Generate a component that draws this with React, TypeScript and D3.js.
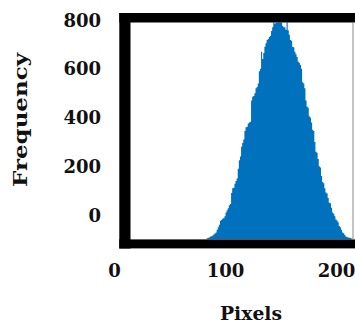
import React from "react";
import * as d3 from "d3";

// histogram counts, one per pixel value starting at binStart
const binStart = 83;
const counts = [
  -95, -93, -92, -88, -87, -84, -80, -76, -72, -60,
  -50, -40, -24, -20, -14, -13, -5, 10, 20, 28,
  40, 45, 90, 110, 112, 128, 140, 150, 190, 225,
  240, 280, 295, 310, 345, 360, 362, 375, 380, 383,
  470, 485, 488, 500, 520, 525, 540, 590, 600, 670,
  640, 665, 690, 705, 718, 722, 730, 735, 755, 770,
  800, 785, 810, 790, 800, 795, 805, 790, 775, 770,
  770, 760, 800, 758, 740, 718, 715, 690, 688, 670,
  660, 648, 630, 625, 615, 600, 545, 540, 520, 470,
  445, 440, 405, 400, 380, 350, 345, 300, 260, 255,
  230, 200, 195, 160, 135, 130, 110, 92, 88, 70,
  50, 48, 30, 10, 5, -5, -18, -22, -30, -45,
  -50, -60, -72, -75, -82, -88, -90, -92, -93, -94,
  -96, -97,
];
const yTicks = [0, 200, 400, 600, 800];
const xTicks = [0, 100, 200];

const W = 355;
const H = 322;
const font = "'DejaVu Serif', serif";

export default function App() {
  const x = d3.scaleLinear().domain([0, 216]).range([114.5, 354.3]);
  const y = d3.scaleLinear().domain([-100, 800]).range([239.4, 20]);
  const base = y(-100);

  // plot box
  const left = 130.5, top = 22.5, right = 353, bottom = 239.4;

  // step outline of the bins, last one closed at its right edge
  const pts = counts.map((c, i) => [binStart + i, c] as [number, number]);
  pts.push([binStart + counts.length, counts[counts.length - 1]]);
  const area = d3
    .area<[number, number]>()
    .x((d) => x(d[0]))
    .y0(base)
    .y1((d) => y(d[1]))
    .curve(d3.curveStepAfter);

  return (
    <svg width={W} height={H} style={{ position: "absolute", left: 0, top: 0 }}>
      <rect width={W} height={H} fill="#fff" />
      <defs>
        <clipPath id="plot">
          <rect x={left} y={top} width={right - left} height={bottom - top} />
        </clipPath>
      </defs>
      <g clipPath="url(#plot)">
        <path d={area(pts) ?? ""} fill="#0072BD" />
      </g>
      {/* thick frame */}
      <rect x={119.3} y={13} width={W - 119.3} height={9.5} fill="#000" />
      <rect x={119.3} y={13} width={11.2} height={235.5} fill="#000" />
      <rect x={119.3} y={239.4} width={W - 119.3} height={9} fill="#000" />
      <line x1={353} x2={353} y1={22} y2={240} stroke="#888" strokeWidth={1} />

      <g fontFamily={font} fontWeight="bold" fontSize={18} fill="#111">
        {yTicks.map((t) => (
          <text key={t} x={101} y={t === 800 ? 20 : y(t)} textAnchor="end" dominantBaseline="central">
            {t}
          </text>
        ))}
        {xTicks.map((t) => (
          <text key={t} x={x(t)} y={270} textAnchor="middle" dominantBaseline="central">
            {t}
          </text>
        ))}
        <text x={251} y={313} textAnchor="middle" dominantBaseline="central" textLength={62} lengthAdjust="spacingAndGlyphs">
          Pixels
        </text>
        <text
          transform="translate(20,120) rotate(-90)"
          textAnchor="middle"
          dominantBaseline="central"
          textLength={134}
          lengthAdjust="spacingAndGlyphs"
        >
          Frequency
        </text>
      </g>
    </svg>
  );
}
